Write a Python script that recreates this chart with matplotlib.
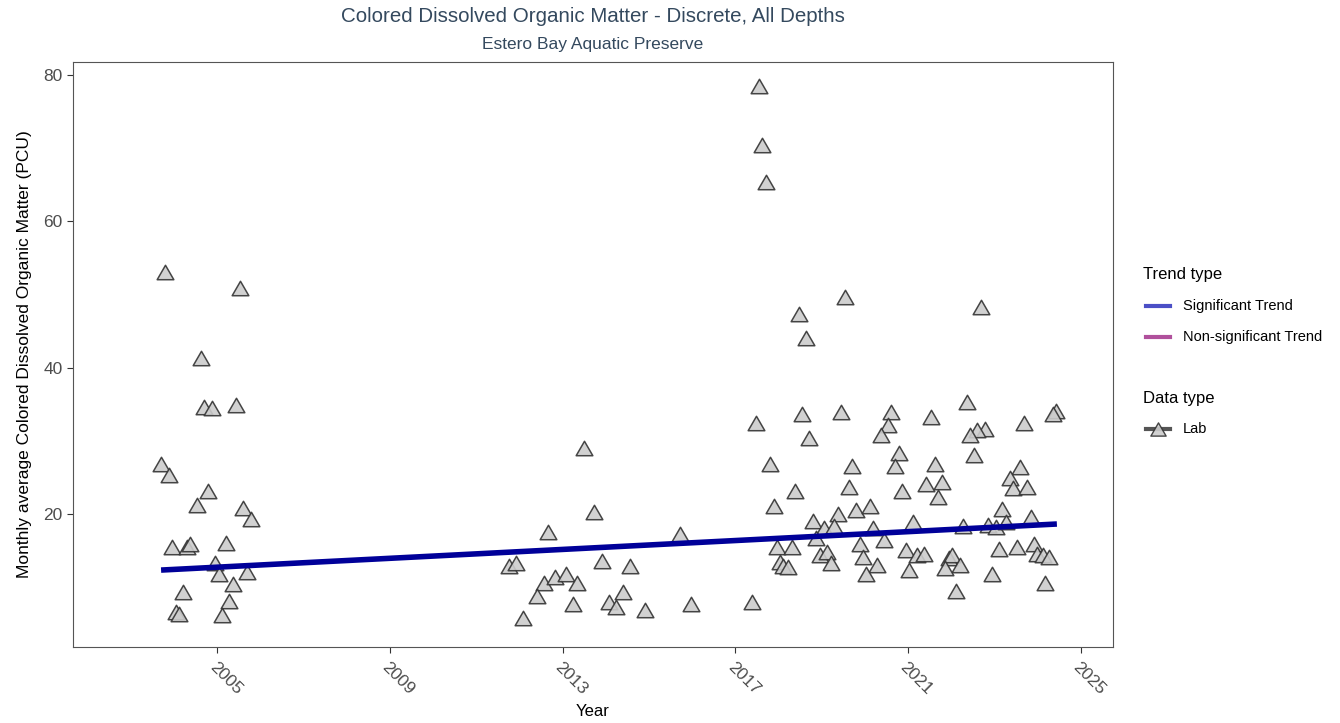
import numpy as np
import matplotlib
matplotlib.use('Agg')
import matplotlib.pyplot as plt
from matplotlib.lines import Line2D
from matplotlib.path import Path

# monthly averages, decimal year / PCU
years = [
    2003.79, 2005.53, 2004.62, 2004.69, 2004.88, 2005.43, 2003.70, 2003.88,
    2004.78, 2004.53, 2005.60, 2005.78, 2003.95, 2004.30, 2004.37, 2005.20,
    2004.95, 2005.04, 2005.69, 2005.36, 2004.21, 2005.27, 2004.04, 2004.11,
    2005.11,
    2013.50, 2013.73, 2012.66, 2015.72, 2011.76, 2011.92, 2013.91, 2014.56,
    2012.57, 2012.82, 2013.08, 2013.33, 2012.41, 2014.40, 2013.24, 2014.07,
    2014.24, 2014.91, 2015.97, 2012.09,
    2017.56, 2017.63, 2017.72, 2019.54, 2018.47, 2018.63, 2017.47, 2018.54,
    2019.45, 2020.61, 2020.54, 2020.37, 2018.71, 2020.79, 2020.70, 2017.80,
    2019.71, 2019.63, 2018.38, 2020.87, 2017.89, 2019.37, 2019.80, 2020.12,
    2018.79, 2019.05, 2019.29, 2020.20, 2018.88, 2017.97, 2018.31, 2019.88,
    2020.45, 2018.96, 2019.13, 2019.96, 2018.03, 2018.11, 2018.22, 2019.22,
    2020.29, 2020.04, 2017.39,
    2022.69, 2022.36, 2021.53, 2024.43, 2024.35, 2023.69, 2022.78, 2022.61,
    2022.44, 2022.52, 2021.62, 2023.60, 2023.36, 2021.43, 2021.79, 2023.44,
    2023.76, 2021.69, 2023.19, 2021.12, 2022.28, 2022.85, 2023.03, 2023.27,
    2023.85, 2020.95, 2021.22, 2021.37, 2021.96, 2022.02, 2022.20, 2021.86,
    2021.03, 2023.10, 2023.52, 2023.93, 2023.99, 2024.12, 2024.26, 2022.94,
    2024.18, 2022.11,
]
cdom = [
    53.1, 50.9, 41.3, 34.6, 34.4, 34.9, 26.8, 25.3,
    23.1, 21.2, 20.8, 19.3, 15.5, 15.5, 15.9, 16.0,
    13.2, 11.7, 12.1, 10.4, 9.3, 8.1, 6.5, 6.3,
    6.2,
    29.0, 20.3, 17.5, 17.3, 12.9, 13.3, 13.6, 12.9,
    10.6, 11.4, 11.7, 10.6, 8.8, 9.3, 7.6, 8.0,
    7.3, 6.9, 7.6, 5.7,
    78.5, 70.4, 65.4, 49.6, 47.3, 44.0, 32.4, 33.6,
    33.9, 33.9, 32.1, 30.8, 30.3, 28.3, 26.5, 26.8,
    26.5, 23.7, 23.1, 23.1, 21.0, 20.0, 20.5, 21.1,
    19.0, 18.0, 18.3, 18.0, 16.7, 15.5, 15.5, 15.9,
    16.4, 14.4, 14.8, 14.1, 13.4, 12.9, 12.7, 13.2,
    13.0, 11.8, 7.9,
    48.3, 35.3, 33.3, 34.1, 33.6, 32.4, 31.6, 31.4,
    30.8, 28.1, 26.8, 26.4, 24.9, 24.1, 24.4, 23.5,
    23.7, 22.3, 20.7, 18.9, 18.3, 18.5, 18.2, 18.9,
    19.5, 15.0, 14.4, 14.5, 13.9, 14.3, 13.0, 12.6,
    12.3, 15.2, 15.5, 15.8, 14.5, 14.3, 14.1, 11.8,
    10.5, 9.5,
]

trend_x = [2003.70, 2024.45]
trend_y = [12.3, 18.6]

trend_labels = ['Significant Trend', 'Non-significant Trend']
trend_colors = ['#4b4fc6', '#b0509c']
data_labels = ['Lab']

xticks = [2005, 2009, 2013, 2017, 2021, 2025]
yticks = [20, 40, 60, 80]

plt.rcParams['font.family'] = ['Liberation Sans', 'DejaVu Sans']

W, H = 1340, 723
def fx(px): return px / W
def fy(py): return 1 - py / H

# equilateral triangle like R's pch 24
tri = Path([(-1, -0.866), (1, -0.866), (0, 0.866), (-1, -0.866)],
           [Path.MOVETO, Path.LINETO, Path.LINETO, Path.CLOSEPOLY])

fig = plt.figure(figsize=(13.4, 7.23), dpi=100)
ax = fig.add_axes([fx(73), fy(647), fx(1113 - 73), (647 - 62) / H])

ax.plot(years, cdom, linestyle='none', marker=tri, markersize=12,
        markerfacecolor='#cccccc', markeredgecolor='#333333',
        markeredgewidth=1.1, alpha=0.9, zorder=2)
ax.plot(trend_x, trend_y, color='#000099', linewidth=4, solid_capstyle='butt', zorder=3)

ax.set_xlim(2001.66, 2025.75)
ax.set_ylim(1.78, 81.78)
ax.set_xticks(xticks)
ax.set_yticks(yticks)
ax.set_xticklabels([str(t) for t in xticks], rotation=-45, ha='left', va='top',
                   rotation_mode='anchor')
ax.tick_params(axis='both', colors='#333333', labelcolor='#4d4d4d', labelsize=12.5,
               length=4, width=0.8)
ax.tick_params(axis='x', pad=5)
for s in ax.spines.values():
    s.set_color('#555555')
    s.set_linewidth(0.8)

ax.set_xlabel('Year', fontsize=12, labelpad=5)
ax.set_ylabel('Monthly average Colored Dissolved Organic Matter (PCU)', fontsize=12.5, labelpad=8)

fig.text(fx(593), fy(17), 'Colored Dissolved Organic Matter - Discrete, All Depths',
         ha='center', va='center', fontsize=14.8, color='#34495e')
fig.text(fx(593), fy(44), 'Estero Bay Aquatic Preserve',
         ha='center', va='center', fontsize=12.5, color='#34495e')

# legends, drawn by hand like ggplot guides
fig.text(fx(1143), fy(275), 'Trend type', ha='left', va='center', fontsize=12)
for i, (lab, col) in enumerate(zip(trend_labels, trend_colors)):
    yy = 306 + i * 31
    fig.add_artist(Line2D([fx(1146), fx(1170)], [fy(yy), fy(yy)], color=col,
                          linewidth=3, transform=fig.transFigure))
    fig.text(fx(1183), fy(yy), lab, ha='left', va='center', fontsize=10.5)

fig.text(fx(1143), fy(398), 'Data type', ha='left', va='center', fontsize=12)
for i, lab in enumerate(data_labels):
    yy = 429 + i * 31
    fig.add_artist(Line2D([fx(1146), fx(1170)], [fy(yy), fy(yy)], color='#555555',
                          linewidth=3, transform=fig.transFigure))
    fig.add_artist(Line2D([fx(1158)], [fy(yy)], linestyle='none', marker=tri, markersize=11,
                          markerfacecolor='#cccccc', markeredgecolor='#333333',
                          markeredgewidth=1, alpha=0.9, transform=fig.transFigure))
    fig.text(fx(1183), fy(yy), lab, ha='left', va='center', fontsize=10.5)

fig.savefig('out.png', dpi=100)
